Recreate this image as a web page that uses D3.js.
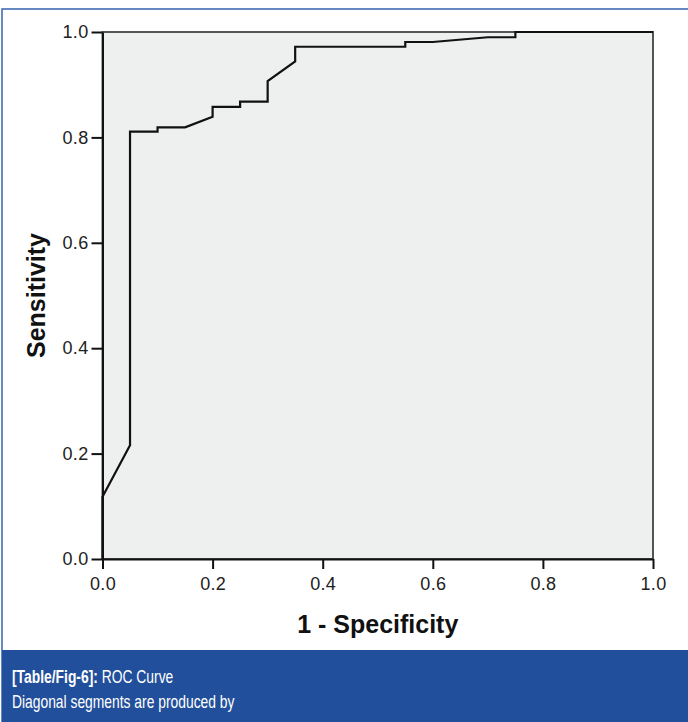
<!DOCTYPE html>
<html>
<head>
<meta charset="utf-8">
<script src="https://cdn.jsdelivr.net/npm/d3@7"></script>
<style>
  body { margin: 0; background: #fff; }
  svg { display: block; }
</style>
</head>
<body>
<div id="chart"></div>
<script>
'use strict';

// ROC curve points (1 - specificity, sensitivity)
const fpr = [0, 0, 0.05, 0.05, 0.10, 0.10, 0.15, 0.20, 0.20, 0.25, 0.25, 0.30, 0.30, 0.35, 0.35, 0.55, 0.55, 0.60, 0.70, 0.75, 0.75, 1.0];
const tpr = [0, 0.118, 0.216, 0.811, 0.811, 0.819, 0.819, 0.839, 0.858, 0.858, 0.868, 0.868, 0.907, 0.944, 0.972, 0.972, 0.981, 0.981, 0.99, 0.99, 1.0, 1.0];
const ticks = [0, 0.2, 0.4, 0.6, 0.8, 1.0];
const xTitle = '1 - Specificity';
const yTitle = 'Sensitivity';
const captionBold = '[Table/Fig-6]:';
const captionLines = [' ROC Curve', 'Diagonal segments are produced by'];

const W = 688, H = 722;
const margin = {top: 32, right: 35, bottom: 163, left: 102.5};
const width = W - margin.left - margin.right,
  height = H - margin.top - margin.bottom;

const svg = d3.select('#chart').append('svg')
  .attr('width', W)
  .attr('height', H);

// outer blue frame (left + top visible)
svg.append('rect')
  .attr('x', 2).attr('y', 9)
  .attr('width', W + 10).attr('height', H)
  .attr('fill', 'none')
  .attr('stroke', '#3563ad')
  .attr('stroke-width', 1.5);

const g = svg.append('g')
  .attr('transform', 'translate(' + margin.left + ',' + margin.top + ')');

const xScale = d3.scaleLinear().domain([0, 1]).range([0, width]);
const yScale = d3.scaleLinear().domain([0, 1]).range([height, 0]);

g.append('rect')
  .attr('width', width).attr('height', height)
  .attr('fill', '#eef0ef')
  .attr('stroke', '#555')
  .attr('stroke-width', 2);

const fmt = d3.format('.1f');

const xAxis = g.append('g')
  .attr('transform', 'translate(0,' + height + ')')
  .call(d3.axisBottom(xScale).tickValues(ticks).tickFormat(fmt).tickSize(10).tickPadding(8).tickSizeOuter(0));

const yAxis = g.append('g')
  .call(d3.axisLeft(yScale).tickValues(ticks).tickFormat(fmt).tickSize(11).tickPadding(3).tickSizeOuter(0));

[xAxis, yAxis].forEach(a => {
  a.select('.domain').attr('stroke', '#111').attr('stroke-width', 2);
  a.selectAll('.tick line').attr('stroke', '#111').attr('stroke-width', 2);
  a.selectAll('.tick text')
    .attr('fill', '#222')
    .style('font-family', 'Liberation Sans, Arial, sans-serif')
    .style('font-size', '18px')
    .style('letter-spacing', '0.3px');
});

const line = d3.line()
  .x((d, i) => xScale(fpr[i]))
  .y((d, i) => yScale(tpr[i]));

g.append('path')
  .datum(tpr)
  .attr('fill', 'none')
  .attr('stroke', '#111')
  .attr('stroke-width', 2.2)
  .attr('stroke-linejoin', 'miter')
  .attr('d', line);

g.append('text')
  .attr('x', width / 2).attr('y', height + 74)
  .attr('text-anchor', 'middle')
  .style('font-family', 'Liberation Sans, Arial, sans-serif')
  .style('font-weight', 'bold')
  .style('font-size', '25px')
  .attr('fill', '#111')
  .text(xTitle);

g.append('text')
  .attr('transform', 'translate(-58,' + (height / 2) + ') rotate(-90)')
  .attr('text-anchor', 'middle')
  .style('font-family', 'Liberation Sans, Arial, sans-serif')
  .style('font-weight', 'bold')
  .style('font-size', '25px')
  .attr('fill', '#111')
  .text(yTitle);

// caption box
svg.append('rect')
  .attr('x', 2).attr('y', 650)
  .attr('width', W).attr('height', H - 650)
  .attr('fill', '#224f9b');

const capFont = 'Liberation Sans Narrow, Liberation Sans, Arial, sans-serif';
const cap = svg.append('text')
  .attr('transform', 'translate(12,683) scale(0.77,1)')
  .attr('fill', '#fff')
  .style('font-family', capFont)
  .style('font-size', '18px');
cap.append('tspan').style('font-weight', 'bold').text(captionBold);
cap.append('tspan').text(captionLines[0]);

svg.append('text')
  .attr('transform', 'translate(12,708) scale(0.77,1)')
  .attr('fill', '#fff')
  .style('font-family', capFont)
  .style('font-size', '18px')
  .text(captionLines[1]);
</script>
</body>
</html>
